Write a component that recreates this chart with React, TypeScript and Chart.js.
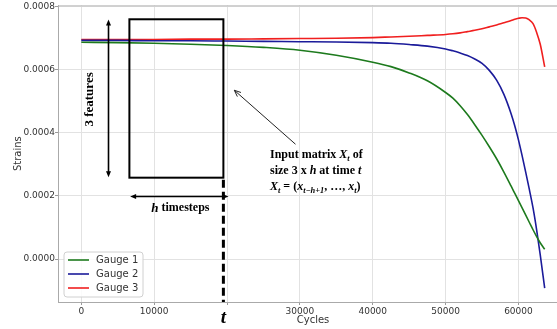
import React, { useEffect, useRef } from 'react';
import { Chart, registerables } from 'chart.js';

Chart.register(...registerables);

// ---------- data ----------
const cycles = [0, 5000, 10000, 15000, 20000, 25000, 30000, 35000, 40000, 42500, 45000, 47500, 50000, 51000, 52000, 53000, 54000, 55000, 56000, 57000, 58000, 59000, 59500, 60000, 60500, 61000, 61500, 62000, 62500, 63000, 63600];
const gauge1 = [0.000687, 0.000686, 0.000684, 0.000681, 0.000677, 0.000671, 0.000662, 0.000646, 0.000624, 0.00061, 0.00059, 0.000565, 0.000528, 0.00051, 0.000486, 0.000458, 0.000426, 0.000392, 0.000356, 0.000318, 0.000276, 0.000231, 0.000208, 0.000185, 0.000162, 0.000139, 0.000116, 0.000093, 0.000071, 0.000051, 0.000031];
const gauge2 = [0.000693, 0.000693, 0.000692, 0.000692, 0.000691, 0.00069, 0.000689, 0.000688, 0.000686, 0.000684, 0.00068, 0.000675, 0.000666, 0.00066, 0.000653, 0.000645, 0.000634, 0.00062, 0.000598, 0.000567, 0.000522, 0.00046, 0.000422, 0.000378, 0.000328, 0.000275, 0.00022, 0.000162, 0.000092, 0.000012, -0.000092];
const gauge3 = [0.000696, 0.000696, 0.000696, 0.000697, 0.000697, 0.000698, 0.000699, 0.0007, 0.000702, 0.000704, 0.000706, 0.000709, 0.000712, 0.000714, 0.000717, 0.000721, 0.000725, 0.00073, 0.000736, 0.000742, 0.000749, 0.000756, 0.00076, 0.000763, 0.000765, 0.000764, 0.000758, 0.000746, 0.000718, 0.00068, 0.000609];
const seriesNames = ['Gauge 1', 'Gauge 2', 'Gauge 3'];
const xTicks = [0, 10000, 20000, 30000, 40000, 50000, 60000];
const xTickLabels = ['0', '10000', '', '30000', '40000', '50000', '60000'];
const yTicks = [0, 0.0002, 0.0004, 0.0006, 0.0008];
const yTickLabels = ['0.0000', '0.0002', '0.0004', '0.0006', '0.0008'];

const COLORS = ['#1d7a1d', '#1b1b9a', '#f01f1f'];
const SERIF = '"Liberation Serif", "Times New Roman", serif';
const SANS = '"DejaVu Sans", sans-serif';

// annotation anchors in data units
const ANN = {
  rect: { x0: 6600, x1: 19500, y0: 0.000258, y1: 0.00076 },
  vArrow: { x: 3700, y0: 0.000259, y1: 0.000759 },
  features: { x: 1100, y: 0.000506 },
  hArrow: { y: 0.000199, x0: 6700, x1: 20200 },
  hText: { x: 13600, y: 0.000161 },
  tX: 19500,
  pointer: { x0: 29400, y0: 0.000364, x1: 21000, y1: 0.000535 },
  textBlock: { x: 25900, y: [0.000329, 0.000278, 0.000228] },
};

type Run = { t: string; i?: boolean; sub?: boolean };
const textLines: Run[][] = [
  [{ t: 'Input matrix ' }, { t: 'X', i: true }, { t: 't', i: true, sub: true }, { t: ' of' }],
  [{ t: 'size 3 x ' }, { t: 'h', i: true }, { t: ' at time ' }, { t: 't', i: true }],
  [{ t: 'X', i: true }, { t: 't', i: true, sub: true }, { t: ' = (' }, { t: 'x', i: true }, { t: 't\u2212h+1', i: true, sub: true }, { t: ', \u2026, ' }, { t: 'x', i: true }, { t: 't', i: true, sub: true }, { t: ')' }],
];

function drawRuns(ctx: CanvasRenderingContext2D, runs: Run[], x: number, y: number, size: number) {
  let cx = x;
  for (const r of runs) {
    const fs = r.sub ? size * 0.7 : size;
    ctx.font = `${r.i ? 'italic ' : ''}bold ${fs}px ${SERIF}`;
    ctx.fillText(r.t, cx, r.sub ? y + size * 0.28 : y);
    cx += ctx.measureText(r.t).width;
  }
}

function head(ctx: CanvasRenderingContext2D, x: number, y: number, ang: number, len: number, w: number) {
  ctx.save();
  ctx.translate(x, y);
  ctx.rotate(ang);
  ctx.beginPath();
  ctx.moveTo(0, 0);
  ctx.lineTo(-len, -w / 2);
  ctx.lineTo(-len, w / 2);
  ctx.closePath();
  ctx.fill();
  ctx.restore();
}

const annotationPlugin = {
  id: 'annot',
  afterDatasetsDraw(chart: any) {
    const { ctx, chartArea, scales } = chart;
    const X = (v: number) => scales.x.getPixelForValue(v);
    const Y = (v: number) => scales.y.getPixelForValue(v);
    ctx.save();

    // top spine
    ctx.strokeStyle = '#b4b4b4';
    ctx.lineWidth = 1;
    ctx.beginPath();
    ctx.moveTo(chartArea.left, chartArea.top + 0.5);
    ctx.lineTo(chartArea.right, chartArea.top + 0.5);
    ctx.stroke();

    ctx.strokeStyle = '#000';
    ctx.fillStyle = '#000';

    // rectangle
    const r = ANN.rect;
    ctx.lineWidth = 2;
    ctx.strokeRect(X(r.x0), Y(r.y1), X(r.x1) - X(r.x0), Y(r.y0) - Y(r.y1));

    // vertical double arrow
    const va = ANN.vArrow;
    const vx = Math.round(X(va.x)) + 0.5;
    ctx.lineWidth = 1.6;
    ctx.beginPath();
    ctx.moveTo(vx, Y(va.y1) + 5);
    ctx.lineTo(vx, Y(va.y0) - 5);
    ctx.stroke();
    head(ctx, vx, Y(va.y1), -Math.PI / 2, 6, 5);
    head(ctx, vx, Y(va.y0), Math.PI / 2, 6, 5);

    // "3 features"
    ctx.save();
    ctx.translate(X(ANN.features.x), Y(ANN.features.y));
    ctx.rotate(-Math.PI / 2);
    ctx.font = `bold 13px ${SERIF}`;
    ctx.textAlign = 'center';
    ctx.textBaseline = 'middle';
    ctx.fillText('3 features', 0, 0);
    ctx.restore();

    // horizontal double arrow
    const ha = ANN.hArrow;
    const hy = Math.round(Y(ha.y)) + 0.5;
    ctx.lineWidth = 1.6;
    ctx.beginPath();
    ctx.moveTo(X(ha.x0) + 5, hy);
    ctx.lineTo(X(ha.x1) - 5, hy);
    ctx.stroke();
    head(ctx, X(ha.x0), hy, Math.PI, 6, 5);
    head(ctx, X(ha.x1), hy, 0, 6, 5);

    // "h timesteps"
    ctx.textBaseline = 'middle';
    ctx.font = `bold italic 13px ${SERIF}`;
    const hW = ctx.measureText('h').width;
    ctx.font = `bold 12px ${SERIF}`;
    const tW = ctx.measureText(' timesteps').width;
    const sx = X(ANN.hText.x) - (hW + tW) / 2;
    const sy = Y(ANN.hText.y);
    ctx.font = `bold italic 13px ${SERIF}`;
    ctx.fillText('h', sx, sy);
    ctx.font = `bold 12px ${SERIF}`;
    ctx.fillText(' timesteps', sx + hW, sy);

    // dashed vertical line at t
    const tx = X(ANN.tX);
    ctx.lineWidth = 3;
    ctx.setLineDash([8, 4]);
    ctx.beginPath();
    ctx.moveTo(tx, Y(r.y0) + 2);
    ctx.lineTo(tx, chartArea.bottom);
    ctx.stroke();
    ctx.setLineDash([]);

    // pointer arrow
    const p = ANN.pointer;
    const px0 = X(p.x0), py0 = Y(p.y0), px1 = X(p.x1), py1 = Y(p.y1);
    ctx.strokeStyle = '#222';
    ctx.lineWidth = 1;
    ctx.beginPath();
    ctx.moveTo(px0, py0);
    ctx.lineTo(px1, py1);
    ctx.stroke();
    const ang = Math.atan2(py1 - py0, px1 - px0);
    ctx.beginPath();
    ctx.moveTo(px1 - 7 * Math.cos(ang - 0.4), py1 - 7 * Math.sin(ang - 0.4));
    ctx.lineTo(px1, py1);
    ctx.lineTo(px1 - 7 * Math.cos(ang + 0.4), py1 - 7 * Math.sin(ang + 0.4));
    ctx.stroke();

    // text block
    ctx.fillStyle = '#000';
    ctx.textAlign = 'left';
    ctx.textBaseline = 'middle';
    const tb = ANN.textBlock;
    textLines.forEach((ln, i) => drawRuns(ctx, ln, X(tb.x), Y(tb.y[i]), 12));

    // legend
    const lx = chartArea.left + 6;
    const lb = chartArea.bottom - 5;
    const lw = 79, lh = 45;
    const ly = lb - lh;
    ctx.beginPath();
    const rad = 3;
    ctx.moveTo(lx + rad, ly);
    ctx.lineTo(lx + lw - rad, ly);
    ctx.arcTo(lx + lw, ly, lx + lw, ly + rad, rad);
    ctx.lineTo(lx + lw, ly + lh - rad);
    ctx.arcTo(lx + lw, ly + lh, lx + lw - rad, ly + lh, rad);
    ctx.lineTo(lx + rad, ly + lh);
    ctx.arcTo(lx, ly + lh, lx, ly + lh - rad, rad);
    ctx.lineTo(lx, ly + rad);
    ctx.arcTo(lx, ly, lx + rad, ly, rad);
    ctx.closePath();
    ctx.fillStyle = 'rgba(255,255,255,0.85)';
    ctx.fill();
    ctx.strokeStyle = '#d0d0d0';
    ctx.lineWidth = 1;
    ctx.stroke();
    chart.data.datasets.forEach((ds: any, i: number) => {
      const rowY = ly + 8 + i * 14;
      ctx.strokeStyle = ds.borderColor;
      ctx.lineWidth = 1.6;
      ctx.beginPath();
      ctx.moveTo(lx + 4, rowY);
      ctx.lineTo(lx + 25, rowY);
      ctx.stroke();
      ctx.fillStyle = '#333';
      ctx.font = `10px ${SANS}`;
      ctx.fillText(ds.label, lx + 32, rowY + 0.5);
    });

    ctx.restore();
  },
  afterDraw(chart: any) {
    const { ctx, scales, chartArea } = chart;
    ctx.save();
    ctx.fillStyle = '#000';
    ctx.font = `bold italic 19px ${SERIF}`;
    ctx.textAlign = 'center';
    ctx.textBaseline = 'middle';
    ctx.fillText('t', scales.x.getPixelForValue(ANN.tX), chartArea.bottom + 16);
    ctx.restore();
  },
};

export default function App() {
  const ref = useRef<HTMLCanvasElement | null>(null);
  useEffect(() => {
    if (!ref.current) return;
    const series = [gauge1, gauge2, gauge3];
    const chart = new Chart(ref.current, {
      type: 'line',
      data: {
        datasets: series.map((s, i) => ({
          label: seriesNames[i],
          data: cycles.map((c, j) => ({ x: c, y: s[j] })),
          borderColor: COLORS[i],
          backgroundColor: COLORS[i],
          borderWidth: 1.6,
          pointRadius: 0,
          cubicInterpolationMode: 'monotone' as const,
          fill: false,
        })),
      },
      options: {
        animation: false,
        responsive: false,
        devicePixelRatio: 1,
        layout: { padding: { top: 5, right: 2, left: 0, bottom: 0 } },
        plugins: { legend: { display: false }, tooltip: { enabled: false } },
        scales: {
          x: {
            type: 'linear',
            min: -3200,
            max: 66800,
            afterBuildTicks: (s: any) => { s.ticks = xTicks.map((v) => ({ value: v })); },
            afterFit: (s: any) => { s.height = 27; },
            ticks: {
              font: { family: SANS, size: 9 },
              color: '#333',
              padding: 1,
              maxRotation: 0,
              autoSkip: false,
              callback: (v: any) => { const k = xTicks.indexOf(Number(v)); return k >= 0 ? xTickLabels[k] : ''; },
            },
            grid: { color: '#e2e2e2', tickColor: '#999', tickLength: 3 },
            border: { color: '#aaa' },
            title: { display: true, text: 'Cycles', font: { family: SANS, size: 10 }, color: '#333', padding: 3 },
          },
          y: {
            type: 'linear',
            min: -0.000136,
            max: 0.000804,
            afterBuildTicks: (s: any) => { s.ticks = yTicks.map((v) => ({ value: v })); },
            afterFit: (s: any) => { s.width = 58; },
            ticks: {
              font: { family: SANS, size: 9 },
              color: '#333',
              padding: 0,
              callback: (v: any) => { const k = yTicks.indexOf(Number(v)); return k >= 0 ? yTickLabels[k] : ''; },
            },
            grid: { color: '#e2e2e2', tickColor: '#999', tickLength: 3 },
            border: { color: '#aaa' },
            title: { display: true, text: 'Strains', font: { family: SANS, size: 10 }, color: '#333', padding: 12 },
          },
        },
      },
      plugins: [annotationPlugin],
    });
    return () => chart.destroy();
  }, []);
  return (
    <div style={{ position: 'absolute', left: 0, top: 0, width: 557, height: 329, overflow: 'hidden', background: '#fff' }}>
      <canvas ref={ref} width={570} height={329} style={{ width: 570, height: 329, display: 'block' }} />
    </div>
  );
}
